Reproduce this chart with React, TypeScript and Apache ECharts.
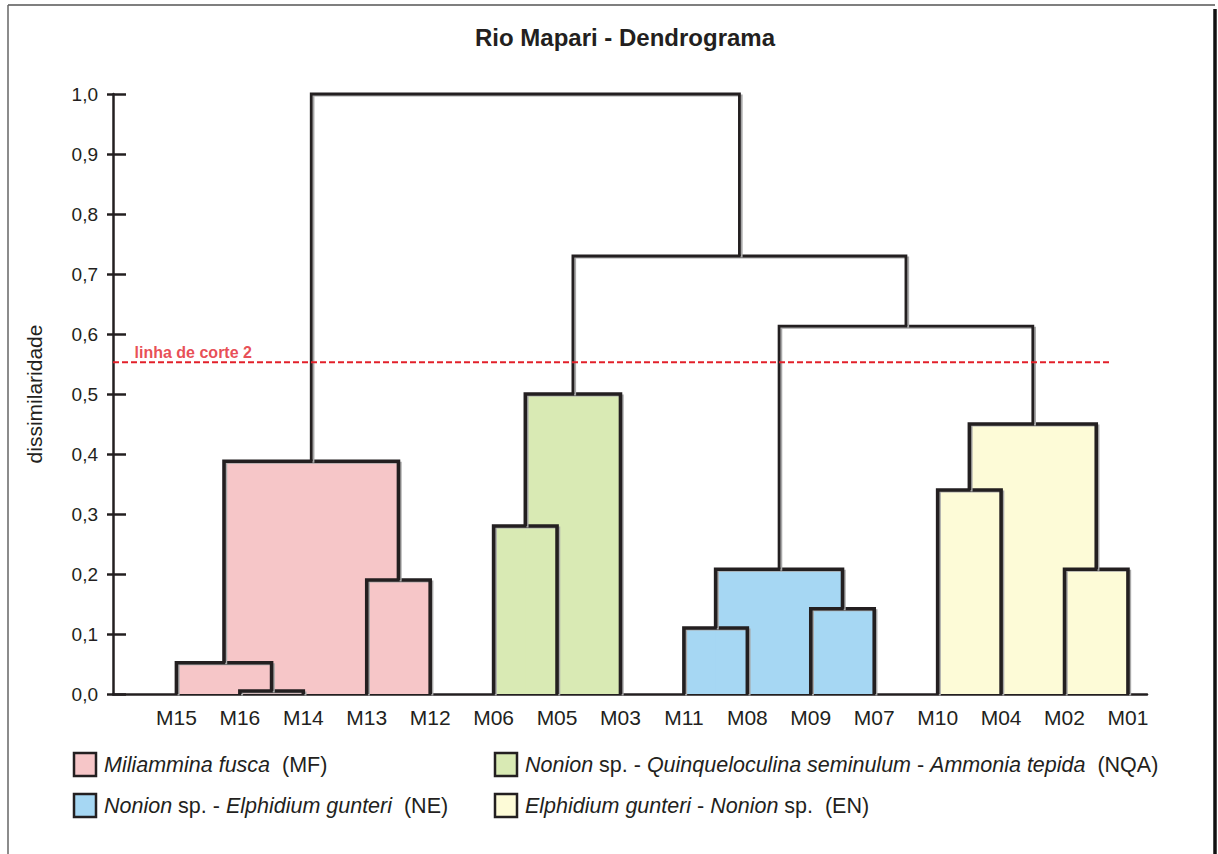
import React, { useEffect, useRef } from 'react';
import * as echarts from 'echarts';

const chartTitle = 'Rio Mapari - Dendrograma';
const yAxisName = 'dissimilaridade';
const leaves = ['M15', 'M16', 'M14', 'M13', 'M12', 'M06', 'M05', 'M03', 'M11', 'M08', 'M09', 'M07', 'M10', 'M04', 'M02', 'M01'];
// linkage: Lk joins linkLeft[k-1] and linkRight[k-1] at linkHeight[k-1]
const linkLeft = ['M16', 'M15', 'M13', 'L2', 'M06', 'L5', 'M11', 'M09', 'L7', 'M10', 'M02', 'L10', 'L9', 'L6', 'L4'];
const linkRight = ['M14', 'L1', 'M12', 'L3', 'M05', 'M03', 'M08', 'M07', 'L8', 'M04', 'M01', 'L11', 'L12', 'L13', 'L14'];
const linkHeight = [0.005, 0.052, 0.19, 0.388, 0.28, 0.5, 0.11, 0.142, 0.208, 0.34, 0.208, 0.45, 0.613, 0.73, 1.0];
const linkGroup = ['MF', 'MF', 'MF', 'MF', 'NQA', 'NQA', 'NE', 'NE', 'NE', 'EN', 'EN', 'EN', '', '', ''];
const groupCodes = ['MF', 'NQA', 'NE', 'EN'];
const groupColors = ['#F6C6C8', '#D9EAB4', '#A6D7F3', '#FDFBD7'];
const groupLegendRich = [
  '{i|Miliammina fusca}{n|  (MF)}',
  '{i|Nonion}{n| sp. - }{i|Quinqueloculina seminulum}{n| - }{i|Ammonia tepida}{n|  (NQA)}',
  '{i|Nonion}{n| sp. - }{i|Elphidium gunteri}{n|  (NE)}',
  '{i|Elphidium gunteri}{n| - }{i|Nonion}{n| sp.  (EN)}',
];
const cutValue = 0.553;
const cutLabel = 'linha de corte 2';
const cutStart = -0.66;
const cutEnd = 14.74;

const FONT = '"Liberation Sans", Arial, Helvetica, sans-serif';
const LINE = '#231F20';
const RED = '#E2202A';

function nodePos(ref: string): { x: number; h: number } {
  const li = leaves.indexOf(ref);
  if (li >= 0) return { x: li, h: 0 };
  const k = parseInt(ref.slice(1), 10) - 1;
  const a = nodePos(linkLeft[k]);
  const b = nodePos(linkRight[k]);
  return { x: (a.x + b.x) / 2, h: linkHeight[k] };
}

const linkData = linkHeight.map((h, k) => {
  const a = nodePos(linkLeft[k]);
  const b = nodePos(linkRight[k]);
  return [a.x, a.h, b.x, b.h, h, groupCodes.indexOf(linkGroup[k])];
});

export default function App() {
  const ref = useRef<HTMLDivElement>(null);
  useEffect(() => {
    if (!ref.current) return;
    const chart = echarts.init(ref.current, null, { renderer: 'svg' });

    const legendX = [74, 495];
    const legendY = [753, 794];
    const legendGraphics: any[] = [];
    groupCodes.forEach((g, i) => {
      const col = i % 2;
      const row = Math.floor(i / 2);
      legendGraphics.push({
        type: 'rect',
        shape: { x: legendX[col], y: legendY[row], width: 22, height: 23 },
        style: { fill: groupColors[i], stroke: LINE, lineWidth: 2.5 },
      });
      legendGraphics.push({
        type: 'text',
        x: legendX[col] + 30,
        y: legendY[row] + 12,
        style: {
          text: groupLegendRich[i],
          verticalAlign: 'middle',
          align: 'left',
          fill: '#231F20',
          font: `21.5px ${FONT}`,
          rich: {
            i: { fontStyle: 'italic', fontSize: 21.5, fontFamily: FONT, fill: '#231F20' },
            n: { fontSize: 21.5, fontFamily: FONT, fill: '#231F20' },
          },
        },
      });
    });

    const option: any = {
      animation: false,
      backgroundColor: '#ffffff',
      grid: { left: 113, right: 71, top: 94, bottom: 160, containLabel: false },
      xAxis: {
        type: 'value',
        min: -1,
        max: 15.3,
        interval: 1,
        splitLine: { show: false },
        axisTick: { show: false },
        axisLine: { show: true, onZero: false, lineStyle: { color: LINE, width: 2.5 } },
        axisLabel: {
          show: true,
          margin: 13,
          fontSize: 21,
          fontFamily: FONT,
          color: '#231F20',
          showMaxLabel: false,
          formatter: (v: number) => {
            const i = Math.round(v);
            return Math.abs(v - i) < 1e-6 && i >= 0 && i < leaves.length ? leaves[i] : '';
          },
        },
      },
      yAxis: [
        {
          type: 'value',
          min: 0,
          max: 1,
          interval: 0.1,
          name: yAxisName,
          nameLocation: 'middle',
          nameGap: 68,
          nameTextStyle: { fontSize: 21, fontFamily: FONT, color: '#231F20' },
          splitLine: { show: false },
          axisLine: { show: true, onZero: false, lineStyle: { color: LINE, width: 2.5 } },
          axisTick: { show: true, length: 6, lineStyle: { color: LINE, width: 2.5 } },
          axisLabel: {
            margin: 15,
            fontSize: 19,
            fontFamily: FONT,
            color: '#231F20',
            formatter: (v: number) => v.toFixed(1).replace('.', ','),
          },
        },
        {
          type: 'value',
          min: 0,
          max: 1,
          interval: 0.1,
          position: 'left',
          splitLine: { show: false },
          axisLine: { show: false, onZero: false },
          axisTick: { show: true, inside: true, length: 13, lineStyle: { color: LINE, width: 2.5 } },
          axisLabel: { show: false },
        },
      ],
      series: [
        {
          type: 'custom',
          name: 'fills',
          coordinateSystem: 'cartesian2d',
          data: linkData,
          encode: { x: [0, 2], y: [1, 3, 4] },
          renderItem: (params: any, api: any) => {
            const g = api.value(5);
            if (g < 0) return { type: 'group', children: [] };
            const p0 = api.coord([api.value(0), 0]);
            const p1 = api.coord([api.value(2), api.value(4)]);
            return {
              type: 'rect',
              shape: { x: p0[0], y: p1[1], width: p1[0] - p0[0], height: p0[1] - p1[1] },
              style: { fill: groupColors[g] },
            };
          },
          z: 2,
        },
        {
          type: 'custom',
          name: 'links',
          coordinateSystem: 'cartesian2d',
          data: linkData,
          encode: { x: [0, 2], y: [1, 3, 4] },
          renderItem: (params: any, api: any) => {
            const g = api.value(5);
            const a = api.coord([api.value(0), api.value(1)]);
            const b = api.coord([api.value(0), api.value(4)]);
            const c = api.coord([api.value(2), api.value(4)]);
            const d = api.coord([api.value(2), api.value(3)]);
            const pts = [a, b, c, d];
            const shift = (p: number[]) => [p[0] + 2.2, p[1] + 1.5];
            return {
              type: 'group',
              children: [
                {
                  type: 'polyline',
                  shape: { points: pts.map(shift) },
                  style: { stroke: '#A8A8A8', lineWidth: 2, fill: 'none', lineJoin: 'miter' },
                },
                {
                  type: 'polyline',
                  shape: { points: pts },
                  style: { stroke: LINE, lineWidth: g >= 0 ? 3.6 : 2.8, fill: 'none', lineJoin: 'miter' },
                },
              ],
            };
          },
          z: 3,
        },
        {
          type: 'line',
          name: 'cut',
          data: [[cutStart - 0.34, cutValue], [cutEnd, cutValue]],
          symbol: 'none',
          lineStyle: { color: RED, width: 2, type: [6, 3] },
          z: 4,
        },
        {
          type: 'scatter',
          name: 'cutLabel',
          data: [[cutStart, cutValue]],
          symbolSize: 0,
          label: {
            show: true,
            position: 'right',
            distance: 0,
            offset: [0, -10],
            formatter: cutLabel,
            fontSize: 16,
            fontWeight: 'bold',
            fontFamily: FONT,
            color: RED,
          },
          z: 5,
        },
      ],
      graphic: [
        {
          type: 'text',
          x: 625,
          y: 37,
          style: {
            text: chartTitle,
            align: 'center',
            verticalAlign: 'middle',
            font: `bold 24px ${FONT}`,
            fill: '#231F20',
          },
        },
        { type: 'line', shape: { x1: 8, y1: 5, x2: 1215, y2: 5 }, style: { stroke: '#555', lineWidth: 1.5 } },
        { type: 'line', shape: { x1: 8, y1: 5, x2: 8, y2: 854 }, style: { stroke: '#666', lineWidth: 1.5 } },
        { type: 'line', shape: { x1: 1215, y1: 9, x2: 1215, y2: 854 }, style: { stroke: '#111', lineWidth: 3.5 } },
        ...legendGraphics,
      ],
    };
    chart.setOption(option);
    return () => chart.dispose();
  }, []);
  return <div ref={ref} style={{ position: 'absolute', left: 0, top: 0, width: 1218, height: 854 }} />;
}
